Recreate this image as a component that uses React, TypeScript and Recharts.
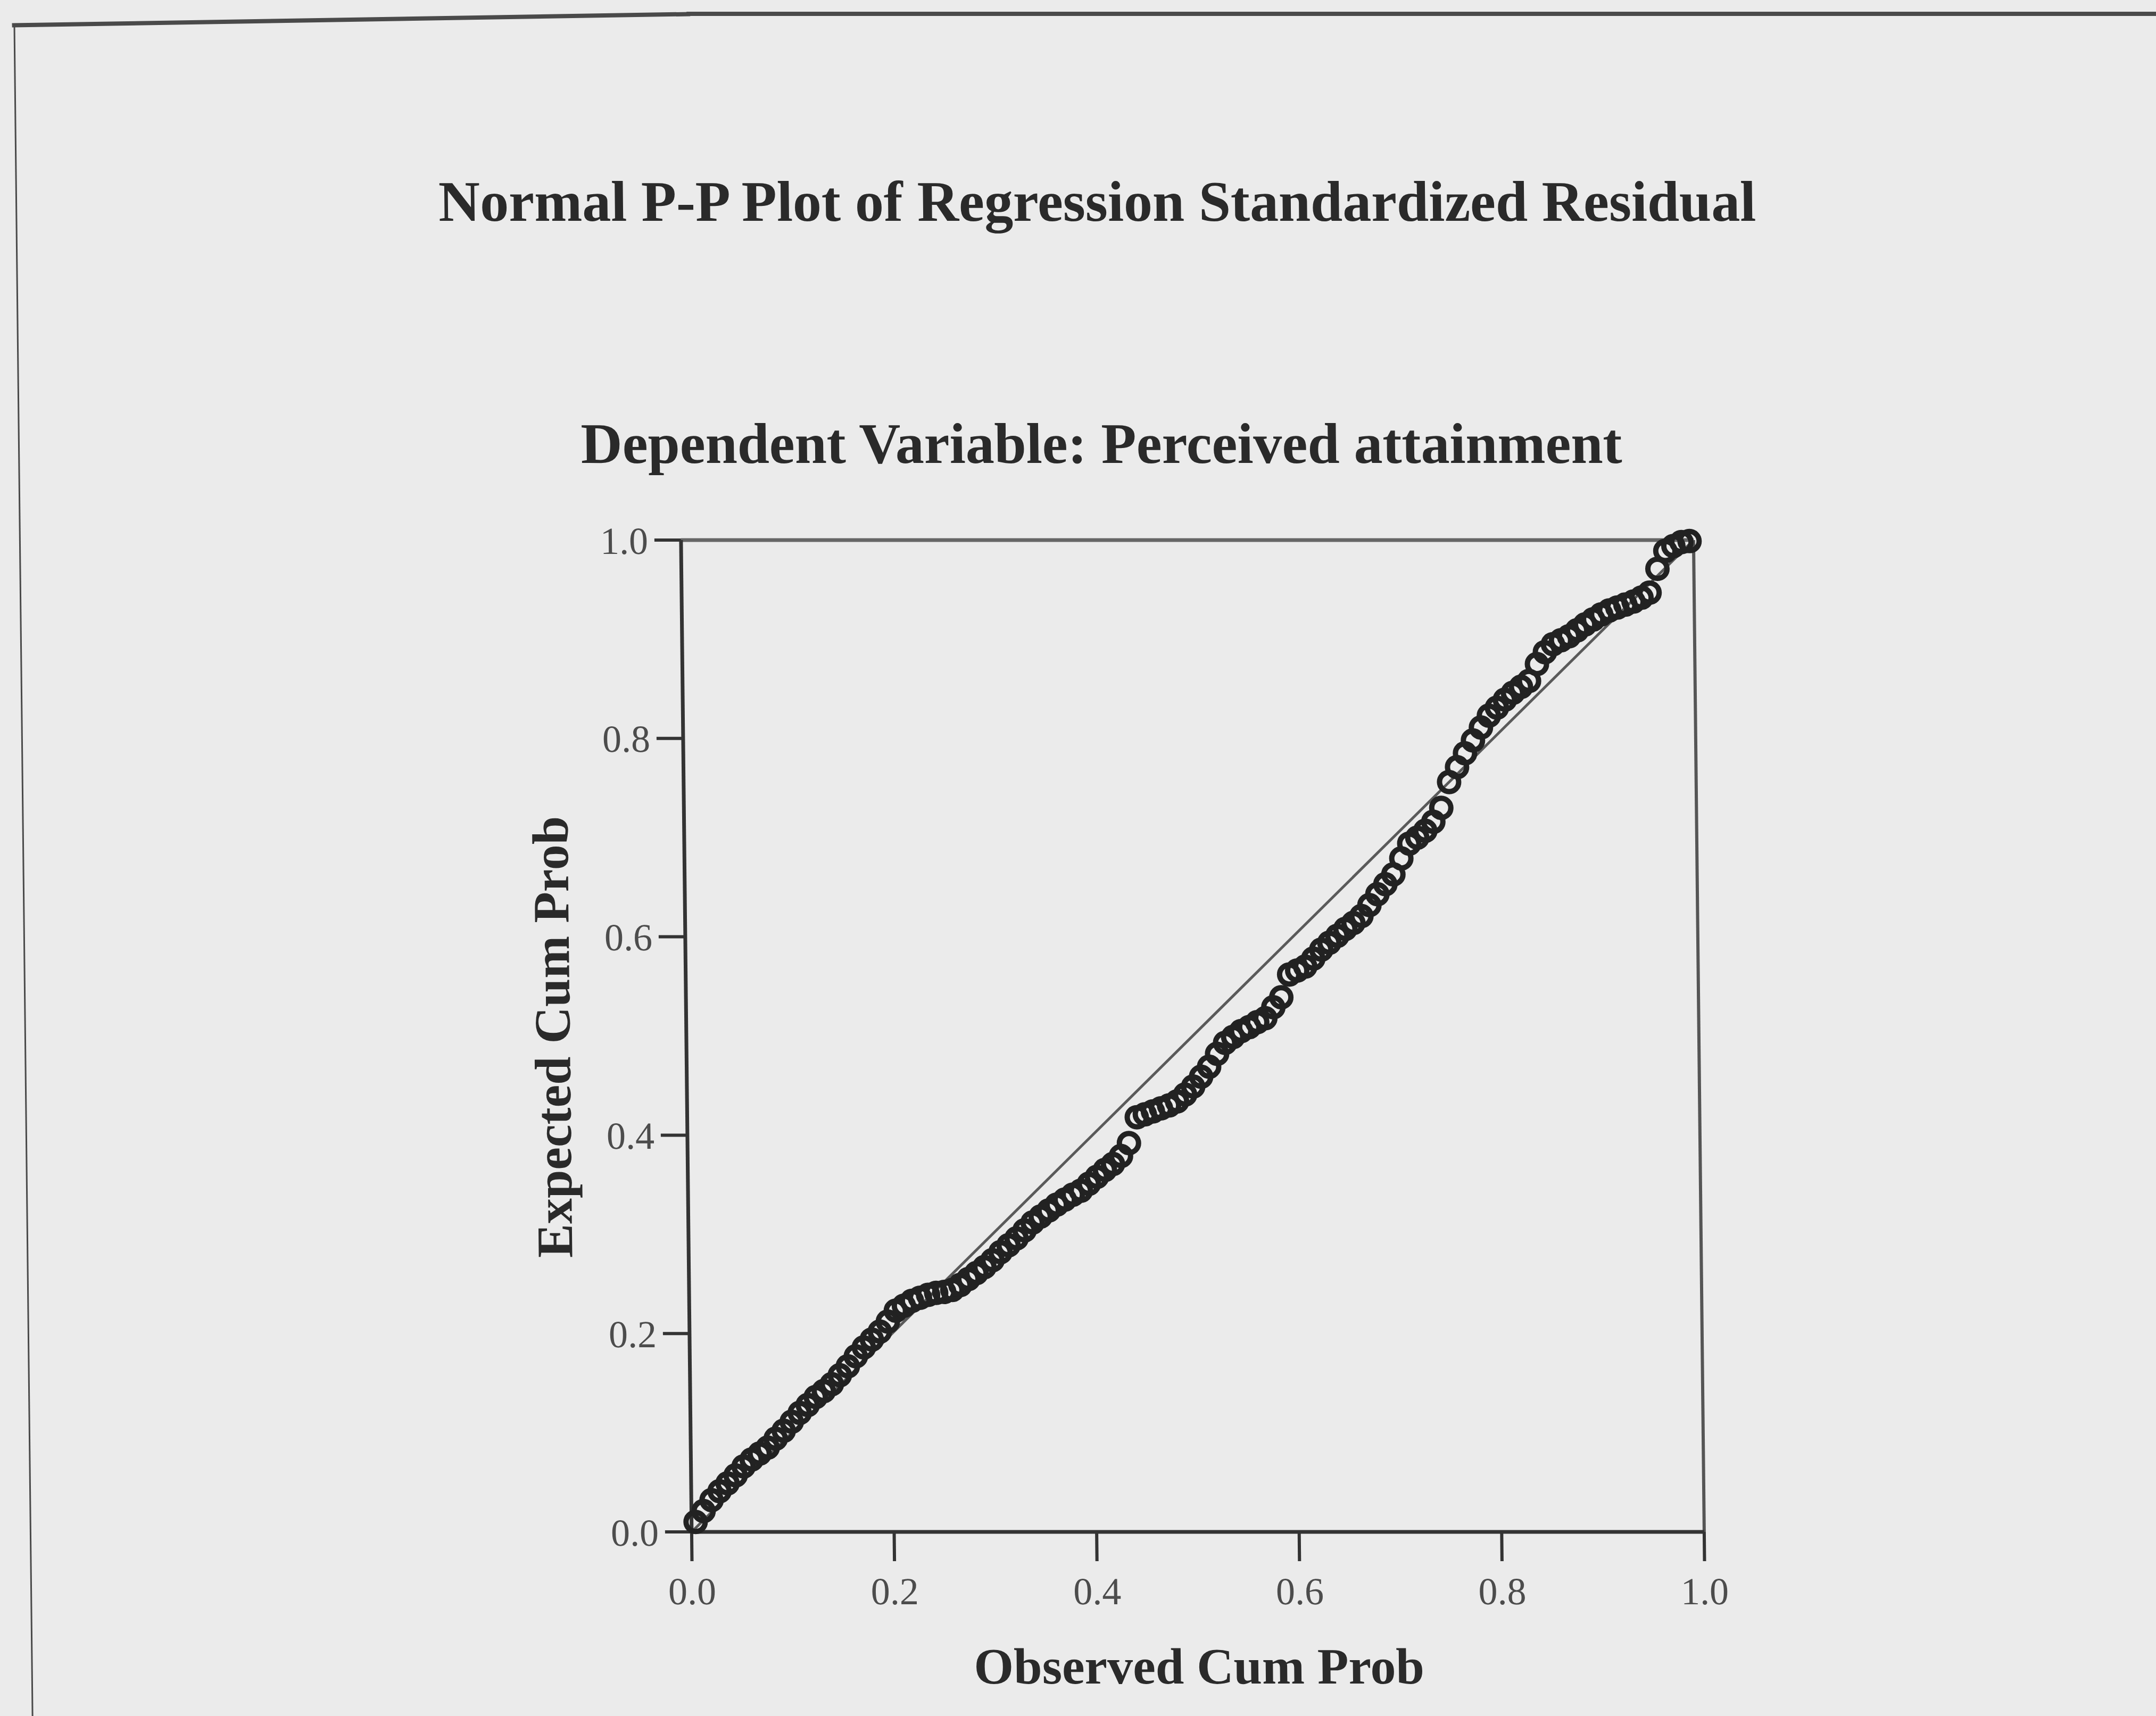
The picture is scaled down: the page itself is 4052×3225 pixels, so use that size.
import React from 'react';
import { ScatterChart, Scatter, XAxis, YAxis, ReferenceLine } from 'recharts';

const observedCumProb = [
  0.004, 0.012, 0.020, 0.028, 0.036, 0.044, 0.052, 0.060, 0.068, 0.076,
  0.084, 0.092, 0.100, 0.108, 0.116, 0.124, 0.132, 0.140, 0.148, 0.156,
  0.164, 0.172, 0.180, 0.188, 0.196, 0.204, 0.212, 0.220, 0.228, 0.236,
  0.244, 0.252, 0.260, 0.268, 0.276, 0.284, 0.292, 0.300, 0.308, 0.316,
  0.324, 0.332, 0.340, 0.348, 0.356, 0.364, 0.372, 0.380, 0.388, 0.396,
  0.404, 0.412, 0.420, 0.428, 0.436, 0.444, 0.452, 0.460, 0.468, 0.476,
  0.484, 0.492, 0.500, 0.508, 0.516, 0.524, 0.532, 0.540, 0.548, 0.556,
  0.564, 0.572, 0.580, 0.588, 0.596, 0.604, 0.612, 0.620, 0.628, 0.636,
  0.644, 0.652, 0.660, 0.668, 0.676, 0.684, 0.692, 0.700, 0.708, 0.716,
  0.724, 0.732, 0.740, 0.748, 0.756, 0.764, 0.772, 0.780, 0.788, 0.796,
  0.804, 0.812, 0.820, 0.828, 0.836, 0.844, 0.852, 0.860, 0.868, 0.876,
  0.884, 0.892, 0.900, 0.908, 0.916, 0.924, 0.932, 0.940, 0.948, 0.956,
  0.964, 0.972, 0.980, 0.988, 0.996,
];

const expectedCumProb = [
  0.010, 0.021, 0.032, 0.041, 0.049, 0.057, 0.066, 0.073, 0.079, 0.085,
  0.094, 0.102, 0.111, 0.120, 0.128, 0.136, 0.142, 0.149, 0.158, 0.167,
  0.177, 0.186, 0.194, 0.202, 0.212, 0.223, 0.228, 0.233, 0.236, 0.239,
  0.241, 0.242, 0.244, 0.249, 0.255, 0.261, 0.267, 0.274, 0.282, 0.289,
  0.296, 0.304, 0.312, 0.318, 0.324, 0.330, 0.335, 0.340, 0.344, 0.351,
  0.358, 0.365, 0.371, 0.379, 0.392, 0.418, 0.421, 0.424, 0.427, 0.430,
  0.434, 0.441, 0.449, 0.459, 0.469, 0.482, 0.493, 0.499, 0.505, 0.509,
  0.514, 0.518, 0.529, 0.539, 0.562, 0.566, 0.570, 0.578, 0.587, 0.594,
  0.601, 0.608, 0.614, 0.621, 0.632, 0.643, 0.653, 0.663, 0.679, 0.694,
  0.700, 0.707, 0.716, 0.730, 0.756, 0.771, 0.785, 0.798, 0.811, 0.823,
  0.831, 0.839, 0.846, 0.852, 0.858, 0.875, 0.887, 0.895, 0.899, 0.903,
  0.909, 0.915, 0.920, 0.925, 0.929, 0.932, 0.935, 0.938, 0.942, 0.947,
  0.971, 0.989, 0.994, 0.998, 0.999,
];

const tickValues = [0, 0.2, 0.4, 0.6, 0.8, 1.0];
const tickLabels = ['0.0', '0.2', '0.4', '0.6', '0.8', '1.0'];

const titleText = 'Normal P-P Plot of Regression Standardized Residual';
const subtitleText = 'Dependent Variable: Perceived attainment';
const xAxisTitle = 'Observed Cum Prob';
const yAxisTitle = 'Expected Cum Prob';

const points = observedCumProb.map((x, i) => ({ x, y: expectedCumProb[i] }));

const FONT = "'Liberation Serif', 'Times New Roman', serif";
const INK = '#2a2a2a';

const Ring = (props: any) => {
  const { cx, cy } = props;
  if (cx == null || cy == null) return null;
  return <circle cx={cx} cy={cy} r={18} fill="none" stroke="#222222" strokeWidth={10} />;
};

const textDiv = (
  text: string,
  cx: number,
  cy: number,
  fs: number,
  weight: string,
  rotate = false
) => (
  <div
    style={{
      position: 'absolute',
      left: cx - 1500,
      top: cy - 0.507 * fs,
      width: 3000,
      height: fs,
      lineHeight: `${fs}px`,
      fontSize: fs,
      fontFamily: FONT,
      fontWeight: weight as any,
      color: INK,
      textAlign: 'center',
      whiteSpace: 'nowrap',
      transform: rotate ? 'rotate(-90deg)' : undefined,
      transformOrigin: '50% 50%',
    }}
  >
    {text}
  </div>
);

export default function App() {
  return (
    <div
      style={{
        position: 'absolute',
        left: 0,
        top: 0,
        width: 4052,
        height: 3225,
        background: '#ebebeb',
        overflow: 'hidden',
      }}
    >
      <div
        style={{
          position: 'absolute',
          left: 0,
          top: 0,
          width: 4052,
          height: 3225,
          transform: 'skewX(0.615deg)',
          transformOrigin: '0 0',
        }}
      >
        {/* outer frame */}
        <div style={{ position: 'absolute', left: 25, top: 44, width: 3, height: 3200, background: '#4a4a4a' }} />
        <div
          style={{
            position: 'absolute',
            left: 22,
            top: 33,
            width: 1275,
            height: 8,
            background: '#4a4a4a',
            transform: 'rotate(-0.95deg)',
            transformOrigin: '50% 50%',
          }}
        />
        <div style={{ position: 'absolute', left: 1290, top: 22, width: 2800, height: 8, background: '#4a4a4a' }} />

        {textDiv(titleText, 2058, 380, 108, 'bold')}
        {textDiv(subtitleText, 2061, 835, 108, 'bold')}
        {textDiv(xAxisTitle, 2220, 3133, 96, 'bold')}
        {textDiv(yAxisTitle, 1018, 1950, 96, 'bold', true)}

        <div style={{ position: 'absolute', left: 0, top: 0 }}>
          <ScatterChart
            width={4052}
            height={3225}
            margin={{ top: 1015, right: 880, bottom: 46, left: 1069 }}
          >
            <XAxis
              type="number"
              dataKey="x"
              domain={[0, 1]}
              ticks={tickValues}
              tickFormatter={(v: number, i: number) => tickLabels[i] ?? v.toFixed(1)}
              height={300}
              tickSize={55}
              tickMargin={30}
              axisLine={{ stroke: '#333333', strokeWidth: 7 }}
              tickLine={{ stroke: '#333333', strokeWidth: 6 }}
              tick={{ fill: '#4c4c4c', fontSize: 72, fontFamily: FONT }}
              interval={0}
            />
            <YAxis
              type="number"
              dataKey="y"
              domain={[0, 1]}
              ticks={tickValues}
              tickFormatter={(v: number, i: number) => tickLabels[i] ?? v.toFixed(1)}
              width={200}
              tickSize={50}
              tickMargin={12}
              axisLine={{ stroke: '#333333', strokeWidth: 7 }}
              tickLine={{ stroke: '#333333', strokeWidth: 6 }}
              tick={{ fill: '#4c4c4c', fontSize: 72, fontFamily: FONT }}
              interval={0}
            />
            <ReferenceLine y={1} stroke="#666666" strokeWidth={7} />
            <ReferenceLine x={1} stroke="#555555" strokeWidth={6} />
            <ReferenceLine
              segment={[
                { x: 0, y: 0 },
                { x: 1, y: 1 },
              ]}
              stroke="#5a5a5a"
              strokeWidth={5}
            />
            <Scatter data={points} shape={Ring} isAnimationActive={false} />
          </ScatterChart>
        </div>
      </div>
    </div>
  );
}
